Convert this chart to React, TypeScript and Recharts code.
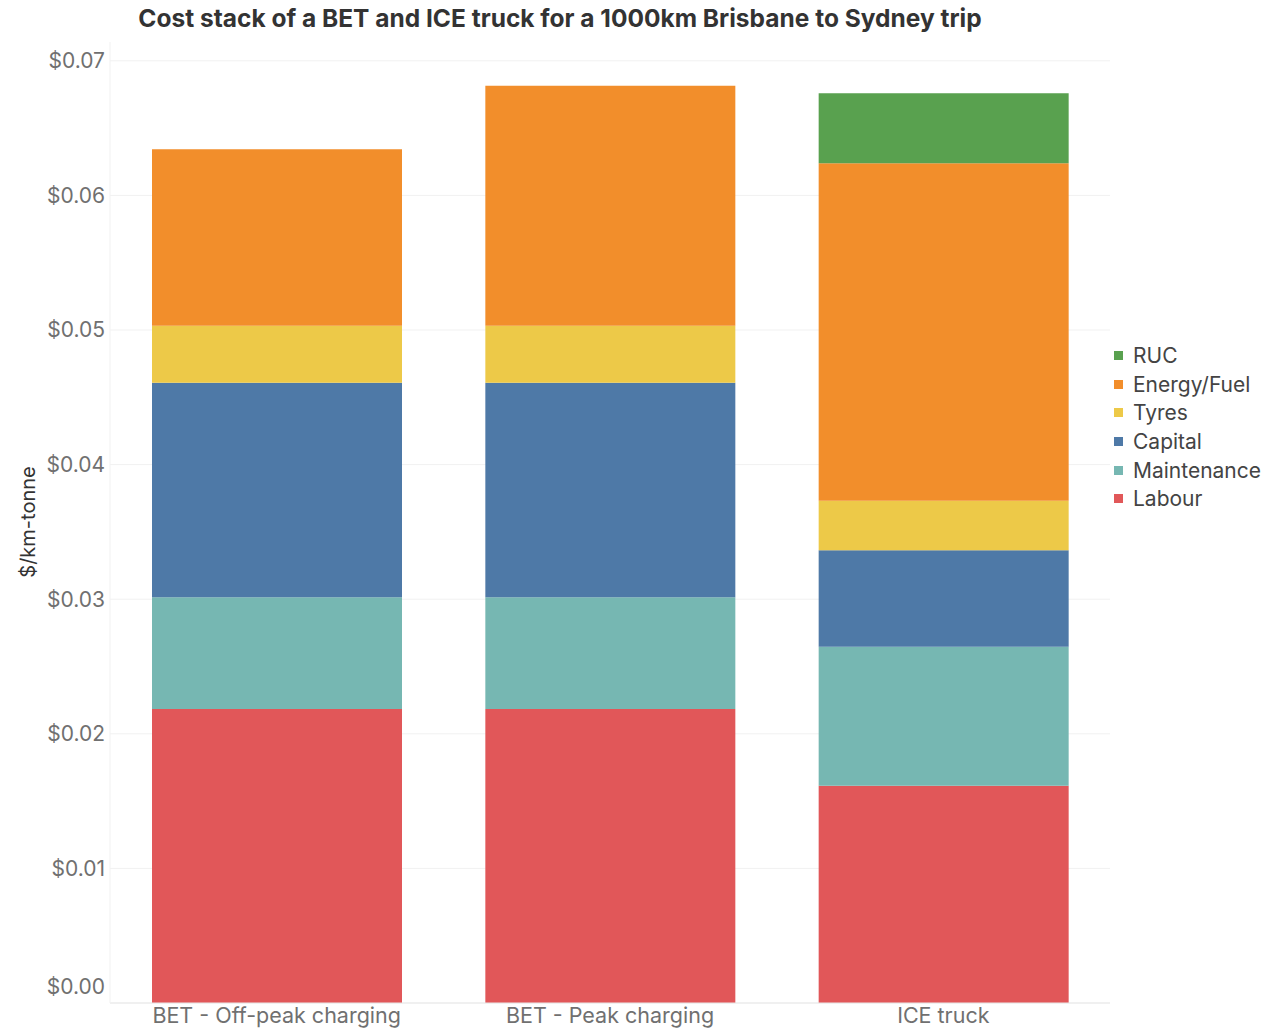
import React from 'react';
import { BarChart, Bar, XAxis, YAxis, CartesianGrid } from 'recharts';

const categories = ['BET - Off-peak charging', 'BET - Peak charging', 'ICE truck'];
const labour = [0.02184, 0.02184, 0.01614];
const maintenance = [0.00831, 0.00831, 0.01033];
const capital = [0.01594, 0.01594, 0.00717];
const tyres = [0.00422, 0.00422, 0.00368];
const energyFuel = [0.01313, 0.01784, 0.02508];
const ruc = [0, 0, 0.0052];
const yTicks = [0, 0.01, 0.02, 0.03, 0.04, 0.05, 0.06, 0.07];

// stack order, bottom to top
const seriesList = [
  { key: 'labour', name: 'Labour', color: '#E15759', values: labour },
  { key: 'maintenance', name: 'Maintenance', color: '#76B7B2', values: maintenance },
  { key: 'capital', name: 'Capital', color: '#4E79A7', values: capital },
  { key: 'tyres', name: 'Tyres', color: '#EDC948', values: tyres },
  { key: 'energy', name: 'Energy/Fuel', color: '#F28E2B', values: energyFuel },
  { key: 'ruc', name: 'RUC', color: '#59A14F', values: ruc },
];

const data = categories.map((c, i) => {
  const row: Record<string, string | number> = { name: c };
  seriesList.forEach((s) => {
    row[s.key] = s.values[i];
  });
  return row;
});

const FONT = 'Inter, "Noto Sans", sans-serif';

const YTick = (props: any) => {
  const { x, y, payload } = props;
  // bottom label sits above its gridline, like the original
  const shift = payload.value === 0 ? -16 : 0;
  return (
    <text x={x} y={y + shift} dy="0.35em" textAnchor="end" fill="#707070" fontSize={21} fontFamily={FONT}>
      {'$' + Number(payload.value).toFixed(2)}
    </text>
  );
};

const App: React.FC = () => {
  return (
    <div style={{ position: 'absolute', left: 0, top: 0, width: 1288, height: 1030, background: '#fff', fontFamily: FONT }}>
      <div
        style={{
          position: 'absolute',
          left: 0,
          width: 1120,
          top: 3,
          textAlign: 'center',
          fontSize: 24.5,
          fontWeight: 700,
          color: '#333',
        }}
      >
        Cost stack of a BET and ICE truck for a 1000km Brisbane to Sydney trip
      </div>

      <BarChart
        width={1288}
        height={1030}
        data={data}
        margin={{ top: 42, right: 178, left: 0, bottom: 0 }}
        barSize={250}
      >
        <CartesianGrid vertical={false} stroke="#f1f1f1" syncWithTicks />
        <XAxis
          dataKey="name"
          height={27}
          tickLine={false}
          tickSize={0}
          tickMargin={5}
          axisLine={{ stroke: '#e8e8e8' }}
          tick={{ fill: '#707070', fontSize: 21.5, fontFamily: FONT }}
          interval={0}
        />
        <YAxis
          width={110}
          domain={[0, 0.0714]}
          ticks={yTicks}
          tickLine={false}
          tickSize={0}
          tickMargin={5}
          axisLine={{ stroke: '#f1f1f1' }}
          tick={<YTick />}
          allowDataOverflow
        />
        {seriesList.map((s) => (
          <Bar key={s.key} dataKey={s.key} name={s.name} stackId="a" fill={s.color} isAnimationActive={false} />
        ))}
      </BarChart>

      <div
        style={{
          position: 'absolute',
          left: 12,
          top: 522,
          transform: 'translate(-50%, -50%) rotate(-90deg)',
          transformOrigin: 'center',
          marginLeft: 16,
          fontSize: 20,
          color: '#333',
          whiteSpace: 'nowrap',
        }}
      >
        $/km-tonne
      </div>

      <div style={{ position: 'absolute', left: 1114, top: 341 }}>
        {seriesList
          .slice()
          .reverse()
          .map((s) => (
            <div key={s.key} style={{ display: 'flex', alignItems: 'center', height: 28.7 }}>
              <span style={{ width: 9, height: 9, background: s.color, display: 'inline-block', marginRight: 10 }} />
              <span style={{ fontSize: 21, color: '#444' }}>{s.name}</span>
            </div>
          ))}
      </div>
    </div>
  );
};

export default App;
